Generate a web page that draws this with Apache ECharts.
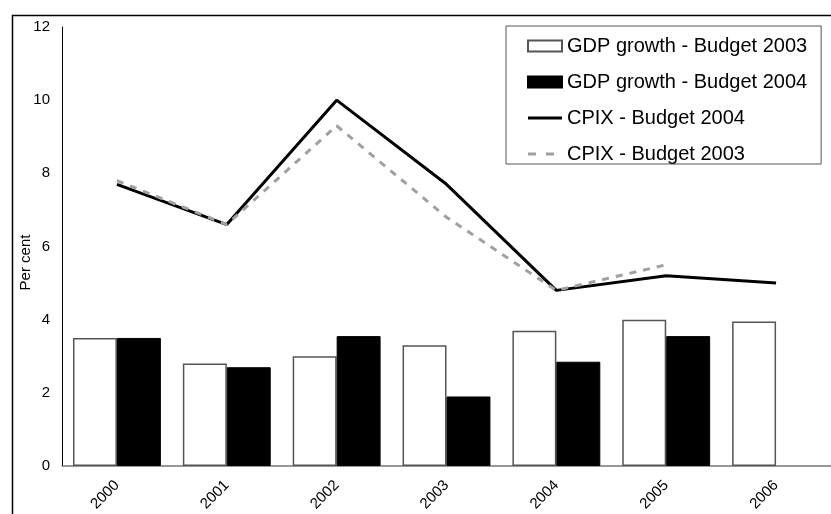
<!DOCTYPE html>
<html>
<head>
<meta charset="utf-8">
<script src="https://cdn.jsdelivr.net/npm/echarts@6/dist/echarts.min.js"></script>
<style>
  html, body { margin: 0; padding: 0; background: #fff; }
  #chart { width: 831px; height: 514px; }
</style>
</head>
<body>
<div id="chart"></div>
<script>
// values
const years = ["2000", "2001", "2002", "2003", "2004", "2005", "2006"];
const gdpBudget2003 = [3.5, 2.8, 3.0, 3.3, 3.7, 4.0, 3.95];
const gdpBudget2004 = [3.5, 2.7, 3.55, 1.9, 2.85, 3.55, null];
const cpixBudget2004 = [7.7, 6.6, 10.0, 7.7, 4.8, 5.2, 5.0];
const cpixBudget2003 = [7.8, 6.6, 9.3, 6.8, 4.8, 5.5, null];
const yTicks = { min: 0, max: 12, interval: 2 };

const font = "Liberation Sans, Arial, sans-serif";

// legend icons for the lines: thin bars inside an 11px tall box (extra moveTo points set the box)
const solidIcon = "path://M0 0M34 11M0 4H34V7H0Z";
const dashIcon = "path://M0 0M34 11M0 4H8V7H0Z M18 4H26V7H18Z";

const chart = echarts.init(document.getElementById("chart"), null, { renderer: "canvas" });

chart.setOption({
  animation: false,
  backgroundColor: "#fff",
  textStyle: { fontFamily: font, color: "#000" },
  graphic: [
    {
      type: "rect",
      left: 10,
      top: 13,
      shape: { width: 900, height: 600 },
      style: { fill: null, stroke: "#000", lineWidth: 1.5 },
      silent: true,
      z: -1,
    },
  ],
  grid: { left: 62, top: 27, right: -3, bottom: 46 },
  legend: {
    orient: "vertical",
    left: 506,
    top: 26,
    padding: [10, 14, 0, 21],
    itemGap: 16,
    itemWidth: 34,
    itemHeight: 11,
    borderColor: "#555",
    borderWidth: 1,
    backgroundColor: "#fff",
    textStyle: { fontFamily: font, fontSize: 20, color: "#000", lineHeight: 20 },
    data: [
      { name: "GDP growth - Budget 2003", icon: "rect" },
      { name: "GDP growth - Budget 2004", icon: "rect" },
      { name: "CPIX - Budget 2004", icon: solidIcon },
      { name: "CPIX - Budget 2003", icon: dashIcon },
    ],
  },
  xAxis: {
    type: "category",
    data: years,
    axisLine: { lineStyle: { color: "#777", width: 1.5 } },
    axisTick: { show: false },
    axisLabel: {
      rotate: 45,
      margin: 17,
      fontSize: 15,
      fontFamily: font,
      color: "#000",
    },
  },
  yAxis: {
    type: "value",
    min: yTicks.min,
    max: yTicks.max,
    interval: yTicks.interval,
    name: "Per cent",
    nameLocation: "middle",
    nameGap: 29,
    nameMoveOverlap: false,
    nameRotate: 90,
    nameTextStyle: { fontFamily: font, fontSize: 15, color: "#000", padding: [0, 32, 0, 0] },
    axisLine: { show: true, lineStyle: { color: "#000", width: 1 } },
    axisTick: { show: false },
    splitLine: { show: false },
    axisLabel: { margin: 12, fontSize: 15, fontFamily: font, color: "#000" },
  },
  series: [
    {
      name: "GDP growth - Budget 2003",
      type: "bar",
      data: gdpBudget2003,
      barWidth: "40%",
      barGap: "0%",
      itemStyle: { color: "#fff", borderColor: "#555", borderWidth: 1.5 },
    },
    {
      name: "GDP growth - Budget 2004",
      type: "bar",
      data: gdpBudget2004,
      barWidth: "40%",
      barGap: "0%",
      itemStyle: { color: "#000", borderColor: "#000", borderWidth: 1 },
    },
    {
      name: "CPIX - Budget 2004",
      type: "line",
      data: cpixBudget2004,
      symbol: "none",
      lineStyle: { color: "#000", width: 3 },
      itemStyle: { color: "#000" },
      z: 3,
    },
    {
      name: "CPIX - Budget 2003",
      type: "line",
      data: cpixBudget2003,
      symbol: "none",
      connectNulls: false,
      lineStyle: { color: "#a0a0a0", width: 3, type: [7, 7] },
      itemStyle: { color: "#a0a0a0" },
      z: 4,
    },
  ],
});
</script>
</body>
</html>
